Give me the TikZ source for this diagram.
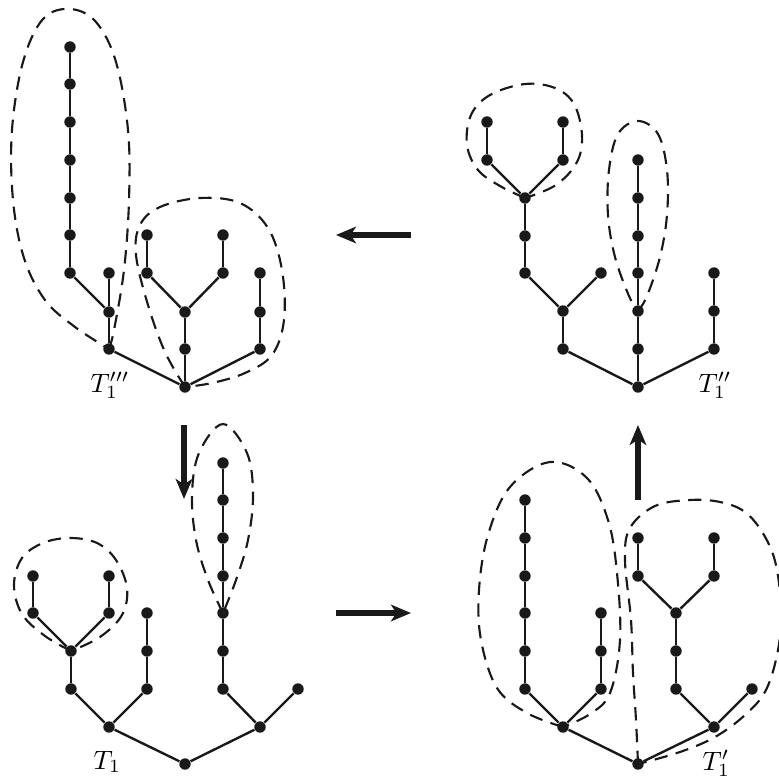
\documentclass[tikz,border=0pt]{standalone}
\usetikzlibrary{arrows.meta}
\begin{document}
\begin{tikzpicture}[x=0.013228cm,y=-0.013228cm,
  dot/.style={circle,fill=black!90,inner sep=0pt,minimum size=4.3pt},
  edge/.style={line width=0.9pt,black!90},
  lp/.style={line width=0.8pt,black!90,dash pattern=on 5pt off 3.2pt},
  bigarrow/.style={line width=2pt,black!90,-{Stealth[length=7.5pt,width=6.2pt,inset=2pt]}},
  lab/.style={anchor=base west,inner sep=0pt}]
\useasboundingbox (0,0) rectangle (779,782);

% ---------- top-left tree T1'''
\foreach \n/\x/\y in {A0/185/387,A1/109/349,A2/109/312,A3/109/273,A4/70/273,A5/70/235,A6/70/198,A7/70/160,A8/70/122,A9/70/84,A10/70/47,
  A11/185/349,A12/185/312,A13/147/273,A14/147/235,A15/223/273,A16/223/235,A17/260/349,A18/260/312,A19/260/273}
  \node[dot] (\n) at (\x,\y) {};
\foreach \a/\b in {A0/A1,A1/A2,A2/A3,A2/A4,A4/A5,A5/A6,A6/A7,A7/A8,A8/A9,A9/A10,A0/A11,A11/A12,A12/A13,A13/A14,A12/A15,A15/A16,A0/A17,A17/A18,A18/A19}
  \draw[edge] (\a) -- (\b);
\draw[lp] plot[smooth,tension=0.6] coordinates {(A1.center) (114,330) (124,270) (129,200) (128,130) (116,62) (96,22) (70,9) (43,19) (23,62) (12,130) (13,200) (24,258) (45,300) (75,327) (A1.center)};
\draw[lp] plot[smooth,tension=0.6] coordinates {(A0.center) (165,352) (148,305) (136,255) (140,225) (160,207) (200,198) (240,203) (268,228) (282,270) (284,320) (272,355) (245,373) (212,383) (A0.center)};
\node[lab] (LA) at (90,392) {$T_1'''$};

% ---------- top-right tree T1''
\foreach \n/\x/\y in {B0/638/387,B1/563/349,B2/563/311,B3/601/273,B4/525/273,B5/525/236,B6/525/198,B7/487/160,B8/487/122,B9/563/160,B10/563/122,
  B11/638/349,B12/638/311,B13/638/273,B14/638/236,B15/638/198,B16/638/160,B17/714/349,B18/714/311,B19/714/273}
  \node[dot] (\n) at (\x,\y) {};
\foreach \a/\b in {B0/B1,B1/B2,B2/B3,B2/B4,B4/B5,B5/B6,B6/B7,B7/B8,B6/B9,B9/B10,B0/B11,B11/B12,B12/B13,B13/B14,B14/B15,B15/B16,B0/B17,B17/B18,B18/B19}
  \draw[edge] (\a) -- (\b);
\draw[lp] plot[smooth,tension=0.6] coordinates {(B6.center) (500,186) (478,170) (467,145) (471,115) (490,95) (525,84) (555,88) (574,104) (582,135) (577,162) (556,185) (B6.center)};
\draw[lp] plot[smooth,tension=0.6] coordinates {(B12.center) (647,296) (660,257) (667,215) (667,170) (658,134) (638,121) (618,134) (609,170) (608,215) (615,257) (629,296) (B12.center)};
\node[lab] (LB) at (698,392) {$T_1''$};

% ---------- bottom-left tree T1
\foreach \n/\x/\y in {C0/185/764,C1/109/727,C2/71/689,C3/71/651,C4/33/613,C5/33/576,C6/109/613,C7/109/576,C8/147/689,C9/147/651,C10/147/613,
  C11/260/727,C12/223/689,C13/223/651,C14/223/613,C15/223/576,C16/223/538,C17/223/500,C18/223/463,C19/298/689}
  \node[dot] (\n) at (\x,\y) {};
\foreach \a/\b in {C0/C1,C1/C2,C2/C3,C3/C4,C4/C5,C3/C6,C6/C7,C1/C8,C8/C9,C9/C10,C0/C11,C11/C12,C12/C13,C13/C14,C14/C15,C15/C16,C16/C17,C17/C18,C11/C19}
  \draw[edge] (\a) -- (\b);
\draw[lp] plot[smooth,tension=0.6] coordinates {(C3.center) (45,636) (22,614) (14,585) (22,558) (43,543) (70,538) (97,543) (116,560) (127,588) (122,615) (100,637) (C3.center)};
\draw[lp] plot[smooth,tension=0.6] coordinates {(C14.center) (208,580) (196,540) (192,495) (199,453) (223,424) (247,453) (253,495) (248,540) (236,580) (C14.center)};
\node[lab] (LC) at (93,769) {$T_1$};

% ---------- bottom-right tree T1'
\foreach \n/\x/\y in {D0/638/764,D1/563/727,D2/525/689,D3/525/651,D4/525/613,D5/525/576,D6/525/538,D7/525/500,D8/601/689,D9/601/651,D10/601/613,
  D11/714/727,D12/676/689,D13/676/651,D14/676/613,D15/638/576,D16/638/538,D17/714/576,D18/714/538,D19/752/689}
  \node[dot] (\n) at (\x,\y) {};
\foreach \a/\b in {D0/D1,D1/D2,D2/D3,D3/D4,D4/D5,D5/D6,D6/D7,D1/D8,D8/D9,D9/D10,D0/D11,D11/D12,D12/D13,D13/D14,D14/D15,D15/D16,D14/D17,D17/D18,D11/D19}
  \draw[edge] (\a) -- (\b);
\draw[lp] plot[smooth,tension=0.6] coordinates {(D1.center) (527,713) (497,688) (481,640) (479,590) (488,535) (510,487) (550,462) (587,478) (608,520) (617,573) (620,640) (610,693) (590,714) (D1.center)};
\draw[lp] plot[smooth,tension=0.6] coordinates {(D0.center) (636,720) (633,673) (631,620) (625,560) (630,528) (655,506) (690,500) (720,502) (745,512) (764,535) (776,565) (781,610) (778,650) (766,690) (745,715) (715,737) (680,752) (D0.center)};
\node[lab] (LD) at (702,770) {$T_1'$};

% ---------- arrows
\coordinate (p1) at (411,235); \coordinate (q1) at (336,235);
\coordinate (p2) at (336,613); \coordinate (q2) at (411,613);
\coordinate (p3) at (184,425); \coordinate (q3) at (184,499);
\coordinate (p4) at (638,500); \coordinate (q4) at (638,425);
\draw[bigarrow] (p1) -- (q1);
\draw[bigarrow] (p2) -- (q2);
\draw[bigarrow] (p3) -- (q3);
\draw[bigarrow] (p4) -- (q4);
\end{tikzpicture}
\end{document}
